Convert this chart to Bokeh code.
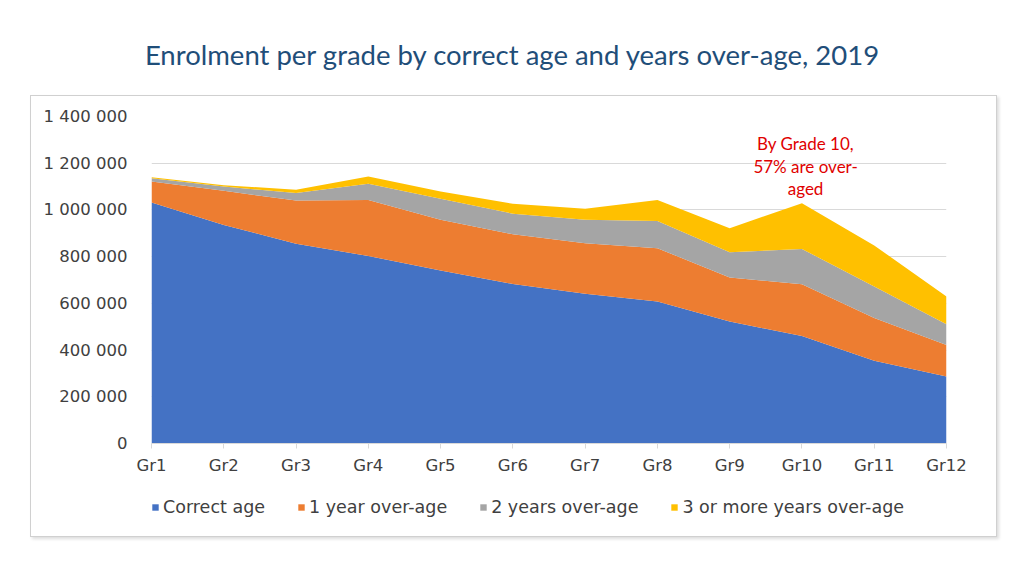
from bokeh.plotting import figure
from bokeh.layouts import column
from bokeh.models import (ColumnDataSource, Range1d, FixedTicker, Legend, LegendItem,
                          Label, Div)
from bokeh.embed import file_html
from bokeh.resources import INLINE

# ---- data ----
grades = ["Gr1", "Gr2", "Gr3", "Gr4", "Gr5", "Gr6", "Gr7", "Gr8", "Gr9", "Gr10", "Gr11", "Gr12"]
correct_age = [1032000, 936000, 855000, 803000, 741000, 683000, 641000, 608000, 522000, 460000, 354000, 287000]
over_1 = [90000, 146000, 185000, 240000, 217000, 213000, 216000, 228000, 189000, 222000, 183000, 135000]
over_2 = [14000, 18000, 32000, 69000, 90000, 88000, 101000, 117000, 108000, 151000, 135000, 89000]
over_3plus = [4000, 6000, 14000, 31000, 31000, 42000, 47000, 90000, 103000, 196000, 176000, 118000]
series_names = ["Correct age", "1 year over-age", "2 years over-age", "3 or more years over-age"]
colors = ["#4472C4", "#ED7D31", "#A5A5A5", "#FFC000"]
y_ticks = [0, 200000, 400000, 600000, 800000, 1000000, 1200000, 1400000]
y_tick_labels = ["0", "200 000", "400 000", "600 000", "800 000", "1 000 000", "1 200 000", "1 400 000"]
title_text = "Enrolment per grade by correct age and years over-age, 2019"
note_text = "By Grade 10,\n57% are over-\naged"

tick_font = "DejaVu Sans"
text_color = "#404040"

# ---- title ----
title = Div(text=title_text, width=1024, height=95, margin=0,
            styles={"font-family": "Lato", "font-size": "27.5px", "color": "#1F4E79",
                    "text-align": "center", "width": "1024px", "padding-top": "38px",
                    "line-height": "34px", "box-sizing": "border-box"})

# ---- main chart ----
x = list(range(len(grades)))
source = ColumnDataSource(dict(x=x, s0=correct_age, s1=over_1, s2=over_2, s3=over_3plus))

p = figure(width=965, height=395, output_backend="svg", toolbar_location=None,
           x_range=Range1d(0, len(grades) - 1), y_range=Range1d(0, 1400000),
           min_border_left=120, min_border_right=50, min_border_top=20, min_border_bottom=48,
           margin=0)

p.varea_stack(stackers=["s0", "s1", "s2", "s3"], x="x", color=colors, source=source)

p.outline_line_color = None

p.yaxis.ticker = FixedTicker(ticks=y_ticks)
p.yaxis.major_label_overrides = {t: l for t, l in zip(y_ticks, y_tick_labels)}
p.yaxis.axis_line_color = None
p.yaxis.major_tick_line_color = None
p.yaxis.minor_tick_line_color = None
p.yaxis.major_label_standoff = 18
p.yaxis.major_label_text_font = tick_font
p.yaxis.major_label_text_font_size = "16.5px"
p.yaxis.major_label_text_color = text_color

p.xaxis.ticker = FixedTicker(ticks=x)
p.xaxis.major_label_overrides = {i: g for i, g in zip(x, grades)}
p.xaxis.axis_line_color = "#D9D9D9"
p.xaxis.major_tick_line_color = "#D9D9D9"
p.xaxis.major_tick_in = 0
p.xaxis.major_tick_out = 5
p.xaxis.minor_tick_line_color = None
p.xaxis.major_label_standoff = 7
p.xaxis.major_label_text_font = tick_font
p.xaxis.major_label_text_font_size = "16.5px"
p.xaxis.major_label_text_color = text_color

p.xgrid.grid_line_color = None
p.ygrid.grid_line_color = "#D9D9D9"
p.ygrid.grid_line_width = 1

note = Label(x=9.05, y=1188000, text=note_text, text_align="center", text_baseline="middle",
             text_font="Lato", text_font_size="17px", text_color="#E00000", text_line_height=1.05)
p.add_layout(note)

# ---- legend strip (same stacked series, kept out of view; only the legend shows) ----
p2 = figure(width=965, height=45, output_backend="svg", toolbar_location=None,
            x_range=Range1d(0, len(grades) - 1), y_range=Range1d(-2, -1),
            x_axis_location=None, y_axis_location=None,
            min_border_left=120, min_border_right=50, min_border_top=0, min_border_bottom=0,
            margin=0)
p2.xgrid.grid_line_color = None
p2.ygrid.grid_line_color = None
p2.outline_line_color = None
legend_renderers = p2.varea_stack(stackers=["s0", "s1", "s2", "s3"], x="x", color=colors, source=source)
legend = Legend(items=[LegendItem(label=n, renderers=[r]) for n, r in zip(series_names, legend_renderers)],
                orientation="horizontal", location=(0, 19),
                label_text_font=tick_font, label_text_font_size="17.5px", label_text_color=text_color,
                glyph_width=8, glyph_height=8, label_standoff=4, spacing=32,
                border_line_color=None, background_fill_alpha=0, margin=0, padding=0)
p2.add_layout(legend)

box = column(p, p2, margin=(0, 0, 0, 30), spacing=0,
             styles={"border": "1px solid #D0D0D0", "box-shadow": "2px 2px 3px #DDDDDD"})
layout = column(title, box, margin=0, spacing=0)

open("out.html", "w").write(file_html(layout, INLINE))
